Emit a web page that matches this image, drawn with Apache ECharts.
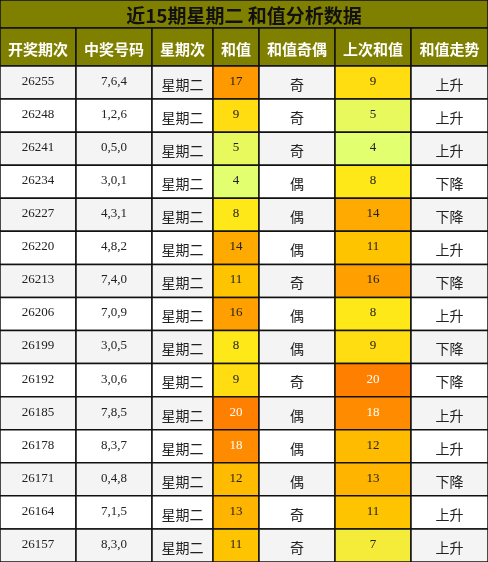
<!DOCTYPE html><html><head><meta charset="utf-8"><script src="https://cdn.jsdelivr.net/npm/echarts@6/dist/echarts.min.js"></script>
<style>html,body{margin:0;padding:0;background:#fff}#c{width:488px;height:562px}</style></head><body><div id="c"></div><script>
const title='近15期星期二 和值分析数据';
const headers=['开奖期次','中奖号码','星期次','和值','和值奇偶','上次和值','和值走势'];
const issues=['26255','26248','26241','26234','26227','26220','26213','26206','26199','26192','26185','26178','26171','26164','26157'];
const numbers=['7,6,4','1,2,6','0,5,0','3,0,1','4,3,1','4,8,2','7,4,0','7,0,9','3,0,5','3,0,6','7,8,5','8,3,7','0,4,8','7,1,5','8,3,0'];
const sums=[17,9,5,4,8,14,11,16,8,9,20,18,12,13,11];
const parity=['奇','奇','奇','偶','偶','偶','奇','偶','偶','奇','偶','偶','偶','奇','奇'];
const prevSums=[9,5,4,8,14,11,16,8,9,20,18,12,13,11,7];
const trends=['上升','上升','上升','下降','下降','上升','下降','上升','下降','下降','上升','上升','下降','上升','上升'];
const colEdges=[0,76,152,213,259,335,411,488];
const sumColor={4:'#e2ff70',5:'#e8f95e',7:'#f5ec3a',8:'#ffe818',9:'#ffdd11',11:'#ffc400',12:'#ffbb00',13:'#ffb400',14:'#ffaa00',16:'#ff9f00',17:'#ff9900',18:'#ff8c00',20:'#ff7f00'};
const TITLE_H=28,HEAD_H=38,ROW_H=(562-66)/15;
const cells=[];
cells.push({kind:'title',c0:0,c1:7,y0:0,y1:TITLE_H,text:title});
headers.forEach((h,i)=>cells.push({kind:'head',c0:i,c1:i+1,y0:TITLE_H,y1:TITLE_H+HEAD_H,text:h}));
issues.forEach((_,r)=>{
 const y0=66+r*ROW_H,y1=y0+ROW_H,bg=r%2===0?'#f4f4f4':'#ffffff';
 const vals=[issues[r],numbers[r],'星期二',String(sums[r]),parity[r],String(prevSums[r]),trends[r]];
 vals.forEach((v,c)=>{
  let fill=bg,color='#222',serif=(c===0||c===1||c===3||c===5);
  if(c===3)fill=sumColor[sums[r]];
  if(c===5)fill=sumColor[prevSums[r]];
  if((c===3&&sums[r]>=18)||(c===5&&prevSums[r]>=18))color='#fff';
  cells.push({kind:'cell',c0:c,c1:c+1,y0,y1,text:v,fill,color,serif,cjk:!serif});
 });
});
const chart=echarts.init(document.getElementById('c'));
chart.setOption({animation:false,
 grid:{left:0,right:0,top:0,bottom:0},
 xAxis:{type:'value',min:0,max:488,show:false},
 yAxis:{type:'value',min:0,max:562,inverse:true,show:false},
 series:[{type:'custom',data:cells.map((c,i)=>[i]),renderItem:(p,api)=>{
  const c=cells[api.value(0)];
  const a=api.coord([colEdges[c.c0],c.y0]),b=api.coord([colEdges[c.c1],c.y1]);
  let fill,font,color;
  if(c.kind==='title'){fill='#808000';font='bold 19px "Noto Sans CJK SC"';color='#111';}
  else if(c.kind==='head'){fill='#808000';font='bold 15px "Noto Sans CJK SC"';color='#fff';}
  else{fill=c.fill;color=c.color;font=c.serif?'13px "Liberation Serif"':'14px "Noto Sans CJK SC"';}
  return {type:'group',children:[
   {type:'rect',shape:{x:a[0],y:a[1],width:b[0]-a[0],height:b[1]-a[1]},style:{fill,stroke:'#111',lineWidth:1.5}},
   {type:'text',style:{x:(a[0]+b[0])/2,y:(a[1]+b[1])/2+(c.serif?-1:2),text:c.text,font,fill:color,align:'center',verticalAlign:'middle'}}
  ]};
 }}]});
</script></body></html>
